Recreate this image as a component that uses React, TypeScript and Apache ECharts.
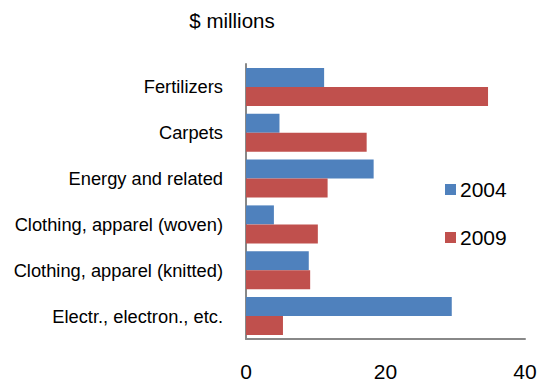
import React, { useEffect, useRef } from "react";
import * as echarts from "echarts";

// Export categories, top to bottom
const categories = [
  "Fertilizers",
  "Carpets",
  "Energy and related",
  "Clothing, apparel (woven)",
  "Clothing, apparel (knitted)",
  "Electr., electron., etc.",
];

// Values in $ millions
const values2004 = [11.2, 4.8, 18.3, 4.0, 9.0, 29.5];
const values2009 = [34.7, 17.3, 11.7, 10.3, 9.2, 5.3];

const xTicks = { min: 0, max: 40, interval: 20 };

const FONT = "'Liberation Sans', Arial, sans-serif";

export default function App() {
  const ref = useRef<HTMLDivElement>(null);

  useEffect(() => {
    if (!ref.current) return;
    const chart = echarts.init(ref.current, undefined, { renderer: "svg" });
    chart.setOption({
      animation: false,
      backgroundColor: "#ffffff",
      textStyle: { fontFamily: FONT },
      title: {
        text: "$ millions",
        left: 227,
        top: 5,
        textAlign: "center",
        textStyle: { fontFamily: FONT, fontSize: 20.5, fontWeight: "normal", color: "#000" },
      },
      legend: {
        orient: "vertical",
        left: 440,
        top: 174,
        itemWidth: 11,
        itemHeight: 11,
        itemGap: 27,
        icon: "rect",
        textStyle: { fontFamily: FONT, fontSize: 21, color: "#000", padding: [0, 0, 0, -1] },
        data: ["2004", "2009"],
      },
      grid: { left: 246, right: 27, top: 64, bottom: 45, containLabel: false },
      xAxis: {
        type: "value",
        min: xTicks.min,
        max: xTicks.max,
        interval: xTicks.interval,
        axisLine: { show: true, lineStyle: { color: "#888", width: 2 } },
        axisTick: { show: false },
        splitLine: { show: false },
        axisLabel: { fontFamily: FONT, fontSize: 21, color: "#000", margin: 22 },
      },
      yAxis: {
        type: "category",
        inverse: true,
        data: categories,
        axisLine: { show: true, lineStyle: { color: "#888", width: 2 } },
        axisTick: { show: false },
        axisLabel: { fontFamily: FONT, fontSize: 18.3, color: "#000", margin: 23 },
      },
      series: [
        {
          name: "2004",
          type: "bar",
          data: values2004,
          itemStyle: { color: "#4F81BD" },
          barGap: "0%",
          barCategoryGap: "17%",
        },
        {
          name: "2009",
          type: "bar",
          data: values2009,
          itemStyle: { color: "#C0504D" },
          barGap: "0%",
          barCategoryGap: "17%",
        },
      ],
    });
    return () => chart.dispose();
  }, []);

  return <div ref={ref} style={{ width: 552, height: 384, position: "absolute", left: 0, top: 0 }} />;
}
